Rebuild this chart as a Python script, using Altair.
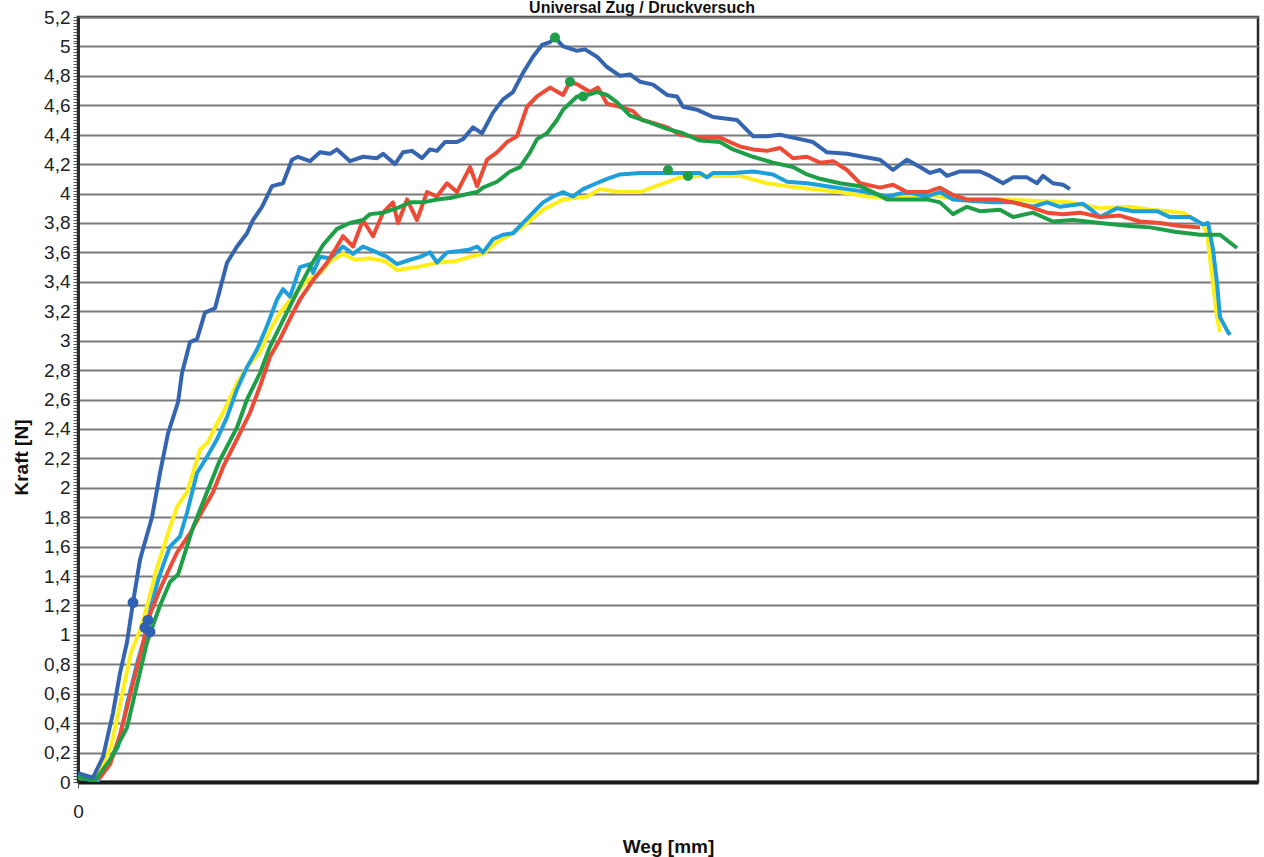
import altair as alt
import pandas as pd

# ---- data (Weg in mm, Kraft in N) ----
x_blue = [0.00, 0.15, 0.25, 0.35, 0.42, 0.49, 0.55, 0.62, 0.64, 0.74, 0.82, 0.90, 1.00, 1.04, 1.12, 1.19, 1.27, 1.37, 1.42, 1.49,
          1.59, 1.69, 1.75, 1.84, 1.94, 2.05, 2.14, 2.20, 2.32, 2.42, 2.52, 2.59, 2.72, 2.85, 2.99, 3.05, 3.17, 3.25, 3.34, 3.44,
          3.52, 3.59, 3.67, 3.79, 3.85, 3.95, 4.04, 4.15, 4.25, 4.35, 4.45, 4.55, 4.64, 4.72, 4.77, 4.85, 4.99, 5.07, 5.19, 5.29,
          5.42, 5.52, 5.62, 5.75, 5.89, 5.99, 6.05, 6.19, 6.35, 6.59, 6.75, 6.89, 7.02, 7.22, 7.35, 7.49, 7.69, 7.85, 8.02, 8.15,
          8.29, 8.42, 8.52, 8.62, 8.69, 8.82, 9.02, 9.12, 9.25, 9.35, 9.49, 9.59, 9.65, 9.75, 9.85, 9.92]
y_blue = [0.06, 0.03, 0.17, 0.47, 0.74, 0.95, 1.22, 1.51, 1.56, 1.80, 2.10, 2.37, 2.58, 2.78, 2.99, 3.01, 3.19, 3.22, 3.35, 3.53,
          3.64, 3.73, 3.82, 3.91, 4.05, 4.07, 4.23, 4.25, 4.22, 4.28, 4.27, 4.30, 4.22, 4.25, 4.24, 4.27, 4.20, 4.28, 4.29, 4.24,
          4.30, 4.29, 4.35, 4.35, 4.37, 4.45, 4.41, 4.55, 4.64, 4.69, 4.82, 4.93, 5.01, 5.03, 5.06, 5.00, 4.97, 4.98, 4.93, 4.86,
          4.80, 4.81, 4.76, 4.74, 4.67, 4.66, 4.59, 4.57, 4.52, 4.50, 4.39, 4.39, 4.40, 4.37, 4.35, 4.28, 4.27, 4.25, 4.23, 4.16,
          4.23, 4.18, 4.14, 4.16, 4.12, 4.15, 4.15, 4.12, 4.07, 4.11, 4.11, 4.07, 4.12, 4.07, 4.06, 4.03]

x_red = [0.07, 0.22, 0.32, 0.42, 0.52, 0.62, 0.72, 0.82, 0.92, 0.99, 1.12, 1.25, 1.35, 1.45, 1.59, 1.72, 1.82, 1.92, 2.02, 2.15,
         2.22, 2.35, 2.49, 2.59, 2.65, 2.75, 2.85, 2.95, 3.05, 3.15, 3.20, 3.29, 3.39, 3.49, 3.59, 3.69, 3.79, 3.92, 3.99, 4.09,
         4.19, 4.29, 4.39, 4.49, 4.59, 4.72, 4.85, 4.92, 5.00, 5.12, 5.20, 5.29, 5.42, 5.55, 5.64, 5.75, 5.89, 6.02, 6.22, 6.42,
         6.62, 6.75, 6.89, 7.02, 7.15, 7.29, 7.42, 7.55, 7.69, 7.82, 8.02, 8.15, 8.29, 8.49, 8.62, 8.75, 8.89, 9.02, 9.19, 9.35,
         9.52, 9.69, 9.85, 10.02, 10.22, 10.42, 10.62, 10.82, 11.02, 11.22]
y_red = [0.02, 0.03, 0.12, 0.32, 0.59, 0.86, 1.14, 1.31, 1.46, 1.56, 1.69, 1.85, 1.97, 2.14, 2.33, 2.51, 2.69, 2.89, 3.01, 3.19,
         3.28, 3.41, 3.53, 3.64, 3.71, 3.64, 3.82, 3.71, 3.87, 3.94, 3.80, 3.96, 3.82, 4.01, 3.98, 4.07, 4.01, 4.18, 4.05, 4.23,
         4.28, 4.35, 4.39, 4.59, 4.66, 4.72, 4.67, 4.76, 4.74, 4.69, 4.72, 4.61, 4.59, 4.56, 4.50, 4.48, 4.45, 4.40, 4.38, 4.38,
         4.32, 4.30, 4.29, 4.31, 4.24, 4.25, 4.21, 4.22, 4.16, 4.07, 4.04, 4.06, 4.01, 4.01, 4.04, 3.99, 3.96, 3.96, 3.96, 3.94,
         3.91, 3.87, 3.86, 3.87, 3.84, 3.85, 3.81, 3.80, 3.78, 3.77]

x_green = [0.00, 0.17, 0.32, 0.49, 0.59, 0.69, 0.82, 0.92, 1.00, 1.15, 1.29, 1.42, 1.59, 1.69, 1.82, 1.92, 2.05, 2.19, 2.32, 2.45,
           2.59, 2.72, 2.85, 2.92, 3.05, 3.19, 3.32, 3.45, 3.59, 3.72, 3.85, 3.99, 4.05, 4.19, 4.32, 4.42, 4.52, 4.59, 4.69, 4.79,
           4.85, 4.99, 5.05, 5.19, 5.29, 5.39, 5.52, 5.69, 5.89, 6.05, 6.22, 6.42, 6.55, 6.75, 6.95, 7.15, 7.29, 7.42, 7.62, 7.82,
           7.95, 8.09, 8.29, 8.49, 8.62, 8.75, 8.89, 9.02, 9.22, 9.35, 9.55, 9.75, 9.95, 10.22, 10.52, 10.72, 10.97, 11.22, 11.42, 11.59]
y_green = [0.03, 0.01, 0.15, 0.37, 0.66, 0.95, 1.20, 1.36, 1.41, 1.73, 1.97, 2.19, 2.41, 2.60, 2.78, 2.96, 3.14, 3.33, 3.50, 3.65,
           3.76, 3.80, 3.82, 3.86, 3.87, 3.90, 3.94, 3.94, 3.96, 3.97, 3.99, 4.01, 4.04, 4.08, 4.15, 4.18, 4.28, 4.37, 4.41, 4.50,
           4.57, 4.66, 4.66, 4.69, 4.67, 4.62, 4.53, 4.49, 4.44, 4.41, 4.36, 4.35, 4.30, 4.25, 4.21, 4.18, 4.13, 4.10, 4.07, 4.05,
           4.01, 3.96, 3.96, 3.96, 3.94, 3.86, 3.91, 3.88, 3.89, 3.84, 3.87, 3.81, 3.82, 3.80, 3.78, 3.77, 3.74, 3.72, 3.72, 3.63]

x_cyan = [0.00, 0.07, 0.20, 0.30, 0.40, 0.50, 0.60, 0.67, 0.73, 0.80, 0.87, 0.92, 1.02, 1.09, 1.19, 1.29, 1.39, 1.49, 1.59, 1.69,
          1.79, 1.89, 1.99, 2.05, 2.12, 2.22, 2.32, 2.35, 2.42, 2.52, 2.65, 2.75, 2.85, 2.99, 3.09, 3.19, 3.32, 3.42, 3.52, 3.59,
          3.69, 3.82, 3.92, 3.99, 4.05, 4.15, 4.25, 4.35, 4.45, 4.55, 4.65, 4.75, 4.85, 4.95, 5.05, 5.15, 5.29, 5.42, 5.62, 5.82,
          6.02, 6.22, 6.29, 6.35, 6.55, 6.75, 6.95, 7.09, 7.29, 7.49, 7.69, 7.89, 8.09, 8.29, 8.49, 8.62, 8.75, 8.95, 9.15, 9.35,
          9.55, 9.69, 9.82, 10.05, 10.15, 10.22, 10.39, 10.55, 10.79, 10.92, 11.12, 11.25, 11.30, 11.35, 11.39, 11.42, 11.49, 11.52]
y_cyan = [0.05, 0.02, 0.01, 0.12, 0.24, 0.56, 0.83, 0.99, 1.19, 1.37, 1.51, 1.60, 1.67, 1.83, 2.10, 2.21, 2.33, 2.48, 2.67, 2.82,
          2.94, 3.10, 3.28, 3.35, 3.30, 3.50, 3.52, 3.46, 3.57, 3.56, 3.64, 3.59, 3.64, 3.60, 3.57, 3.52, 3.55, 3.57, 3.60, 3.53,
          3.60, 3.61, 3.62, 3.64, 3.60, 3.69, 3.72, 3.73, 3.80, 3.87, 3.94, 3.98, 4.01, 3.98, 4.03, 4.06, 4.10, 4.13, 4.14, 4.14,
          4.14, 4.14, 4.11, 4.14, 4.14, 4.15, 4.13, 4.08, 4.07, 4.05, 4.03, 4.01, 3.98, 4.01, 3.98, 4.01, 3.96, 3.95, 3.94, 3.94,
          3.91, 3.94, 3.91, 3.93, 3.88, 3.84, 3.90, 3.88, 3.88, 3.84, 3.84, 3.79, 3.80, 3.62, 3.39, 3.16, 3.07, 3.04]

x_yellow = [0.00, 0.13, 0.22, 0.33, 0.43, 0.53, 0.63, 0.70, 0.80, 0.92, 0.99, 1.09, 1.15, 1.22, 1.30, 1.37, 1.45, 1.50, 1.59, 1.69,
            1.82, 1.92, 2.02, 2.15, 2.29, 2.42, 2.52, 2.65, 2.77, 2.92, 3.07, 3.19, 3.39, 3.59, 3.77, 3.92, 4.05, 4.19, 4.42, 4.65,
            4.85, 5.09, 5.22, 5.42, 5.62, 5.82, 6.02, 6.22, 6.42, 6.62, 6.89, 7.09, 7.35, 7.62, 7.89, 8.22, 8.52, 8.82, 9.22, 9.62,
            9.92, 10.22, 10.52, 10.72, 11.05, 11.25, 11.29, 11.35, 11.39, 11.42]
y_yellow = [0.03, 0.03, 0.08, 0.24, 0.56, 0.88, 1.05, 1.22, 1.48, 1.73, 1.87, 1.97, 2.10, 2.26, 2.31, 2.41, 2.51, 2.58, 2.71, 2.82,
            2.92, 3.07, 3.19, 3.30, 3.41, 3.46, 3.54, 3.59, 3.55, 3.56, 3.54, 3.48, 3.50, 3.53, 3.54, 3.57, 3.59, 3.67, 3.76, 3.89,
            3.96, 3.98, 4.03, 4.01, 4.01, 4.06, 4.11, 4.12, 4.12, 4.12, 4.07, 4.05, 4.03, 4.01, 3.98, 3.97, 3.99, 3.96, 3.96, 3.95,
            3.94, 3.90, 3.91, 3.89, 3.87, 3.79, 3.73, 3.39, 3.16, 3.06]

# markers on the curves
x_blue_marks = [0.55, 0.67, 0.72, 0.70]
y_blue_marks = [1.22, 1.05, 1.02, 1.10]
x_green_marks = [4.77, 4.92, 5.05, 5.90, 6.10]
y_green_marks = [5.06, 4.76, 4.66, 4.16, 4.12]

y_ticks = [round(i * 0.02, 2) for i in range(261)]

series = [
    ("yellow", x_yellow, y_yellow, "#FFEE1A"),
    ("cyan", x_cyan, y_cyan, "#1E9FDC"),
    ("red", x_red, y_red, "#EE4B36"),
    ("green", x_green, y_green, "#1F9E48"),
    ("blue", x_blue, y_blue, "#3565B0"),
]

FONT = "Liberation Sans"
major_test = "abs(datum.value*5 - round(datum.value*5)) < 0.001"

x_scale = alt.Scale(domain=[0, 11.8], nice=False, zero=False)
y_scale = alt.Scale(domain=[0, 5.2], nice=False)

x_axis = alt.Axis(values=[0], title="Weg [mm]", labelFontSize=19, labelColor="#222", labelFont=FONT,
                  labelFlush=False,
                  titleFont=FONT, titleFontSize=19, titleFontWeight="bold", titleColor="#111",
                  titlePadding=16, labelPadding=14, domainColor="#1a1a1a", domainWidth=4,
                  tickColor="#555", tickSize=6, grid=False)
y_axis = alt.Axis(values=y_ticks, title="Kraft [N]", labelFont=FONT, labelFontSize=19, labelColor="#222",
                  labelExpr=f"({major_test}) ? replace(format(datum.value, '.1~f'), '.', ',') : ''",
                  labelOverlap=False, labelPadding=3,
                  titleFont=FONT, titleFontSize=19, titleFontWeight="bold", titleColor="#111", titlePadding=12,
                  titleY=440,
                  domainColor="#2a2a2a", domainWidth=3,
                  tickColor="#555", tickSize=5, tickWidth=1,
                  grid=True, gridColor="#7a7a7a", gridWidth=1.8,
                  gridOpacity={"condition": {"test": major_test, "value": 1}, "value": 0})

X = alt.X("x:Q", scale=x_scale, axis=x_axis)
Y = alt.Y("y:Q", scale=y_scale, axis=y_axis)

layers = []
for name, xs, ys, col in series:
    df = pd.DataFrame({"x": xs, "y": ys})
    layers.append(alt.Chart(df).mark_line(color=col, strokeWidth=4, strokeJoin="round", clip=True)
                  .encode(x=X, y=Y))

blue_marks = pd.DataFrame({"x": x_blue_marks, "y": y_blue_marks})
green_marks = pd.DataFrame({"x": x_green_marks, "y": y_green_marks})
layers.append(alt.Chart(blue_marks).mark_circle(color="#2F62B5", size=120, opacity=1).encode(x=X, y=Y))
layers.append(alt.Chart(green_marks).mark_circle(color="#1F9E48", size=100, opacity=1).encode(x=X, y=Y))

title_df = pd.DataFrame({"t": ["Universal Zug / Druckversuch"]})
layers.append(alt.Chart(title_df).mark_text(font=FONT, fontSize=16, fontWeight="bold", color="#111",
                                            align="center", baseline="bottom")
              .encode(text="t:N", x=alt.value(564), y=alt.value(-1)))

chart = alt.layer(*layers).properties(
    width=1180, height=765,
    padding={"left": 78, "top": 17, "right": 6, "bottom": 75},
    autosize=alt.AutoSizeParams(type="none"),
    background="white",
).configure_view(stroke="#2a2a2a", strokeWidth=2.5)

chart.save("out.html", embed_options={"renderer": "svg", "actions": False})
